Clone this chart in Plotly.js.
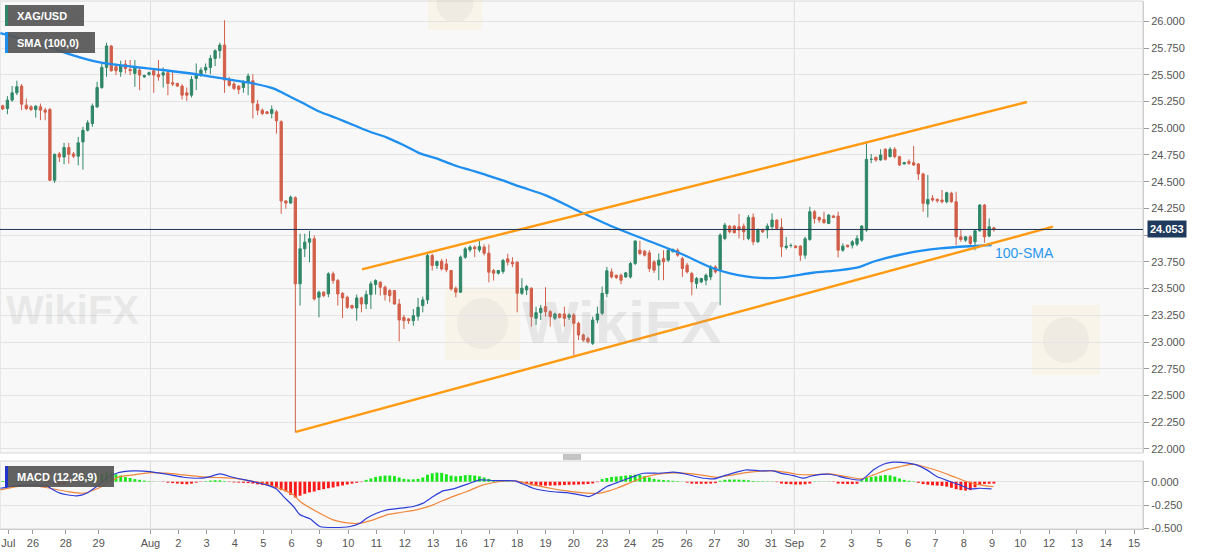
<!DOCTYPE html>
<html>
<head>
<meta charset="utf-8">
<script src="https://cdn.plot.ly/plotly-3.0.1.min.js"></script>
<style>
html,body{margin:0;padding:0;background:#ffffff;}
#chart{width:1207px;height:555px;}
</style>
</head>
<body>
<div id="chart"></div>
<script>
// ---------------- DATA ----------------
const symbolName = 'XAG/USD';
const smaLabel = 'SMA (100,0)';
const macdLabel = 'MACD (12,26,9)';
const smaNote = '100-SMA';
const lastPrice = 24.053;

// 4-hour candles, one per bar position
const openP = [
25.21,25.184,25.263,25.331,25.394,25.216,25.20,25.175,25.20,25.17,
25.175,24.513,24.76,24.731,24.819,24.76,24.738,24.872,24.981,25.044,
25.20,25.381,25.569,25.769,25.575,25.528,25.60,25.55,25.513,25.544,
25.481,25.503,25.538,25.503,25.497,25.519,25.425,25.419,25.394,25.331,
25.309,25.466,25.497,25.544,25.569,25.653,25.725,25.778,25.456,25.413,
25.394,25.381,25.434,25.444,25.225,25.169,25.153,25.138,25.153,25.06,
24.32,24.30,24.35,23.544,23.872,23.934,23.966,23.419,23.466,23.45,
23.638,23.575,23.456,23.419,23.341,23.319,23.413,23.356,23.444,23.538,
23.559,23.513,23.481,23.481,23.356,23.231,23.216,23.20,23.241,23.341,
23.394,23.809,23.716,23.756,23.731,23.669,23.503,23.466,23.794,23.862,
23.888,23.862,23.888,23.831,23.669,23.644,23.66,23.778,23.747,23.747,
23.456,23.4875,23.503,23.222,23.275,23.331,23.284,23.222,23.2625,23.2625,
23.231,23.253,23.175,23.066,23.034,22.9875,23.206,23.269,23.453,23.656,
23.625,23.625,23.609,23.609,23.734,23.859,23.85,23.834,23.75,23.719,
23.78,23.766,23.844,23.859,23.78,23.719,23.641,23.547,23.5625,23.578,
23.609,23.703,23.672,23.969,24.084,24.084,24.078,24.084,23.969,24.166,
23.9375,24.053,24.047,24.078,24.141,24.072,23.884,23.903,23.897,23.897,
23.8125,23.959,24.219,24.166,24.147,24.109,24.178,24.178,23.859,23.906,
23.906,23.916,23.953,24.047,24.709,24.728,24.703,24.803,24.734,24.803,
24.734,24.666,24.6875,24.678,24.666,24.572,24.291,24.344,24.334,24.328,
24.3125,24.391,24.3125,23.984,23.953,23.984,23.9375,24.041,24.281,23.991,
24.068];
const highP = [
25.22,25.30,25.394,25.444,25.413,25.278,25.216,25.216,25.231,25.19,
25.19,24.763,24.778,24.863,24.863,24.778,24.919,25.013,25.075,25.231,
25.434,25.606,25.80,25.778,25.606,25.631,25.638,25.638,25.638,25.569,
25.50,25.53,25.559,25.638,25.569,25.544,25.528,25.425,25.413,25.381,
25.488,25.606,25.569,25.606,25.684,25.738,25.80,26.01,25.481,25.434,
25.403,25.45,25.513,25.506,25.263,25.184,25.16,25.213,25.169,25.075,
24.325,24.37,24.363,24.0125,24.0125,24.04,23.997,23.481,23.475,23.653,
23.66,23.591,23.466,23.434,23.35,23.444,23.425,23.481,23.569,23.587,
23.569,23.528,23.497,23.488,23.403,23.256,23.225,23.309,23.413,23.425,
23.831,23.825,23.763,23.778,23.778,23.675,23.519,23.809,23.888,23.903,
23.903,23.944,23.913,23.913,23.684,23.675,23.778,23.825,23.794,23.756,
23.597,23.534,23.5125,23.331,23.347,23.5125,23.30,23.275,23.27,23.331,
23.269,23.269,23.19,23.08,23.05,23.2375,23.331,23.519,23.703,23.6875,
23.63,23.641,23.656,23.75,23.953,23.947,23.86,23.859,23.766,23.828,
23.859,23.875,23.875,23.875,23.797,23.741,23.656,23.609,23.60,23.641,
23.719,23.719,24.016,24.116,24.094,24.094,24.197,24.109,24.1875,24.203,
24.0625,24.06,24.109,24.203,24.147,24.156,23.984,23.922,23.906,23.906,
23.984,24.266,24.234,24.172,24.219,24.197,24.19,24.219,23.922,23.91,
23.953,24.0,24.094,24.875,24.759,24.734,24.803,24.8125,24.822,24.822,
24.741,24.685,24.709,24.834,24.672,24.584,24.5625,24.375,24.344,24.422,
24.406,24.406,24.406,24.047,23.991,24.0,24.047,24.291,24.291,24.156,
24.078];
const lowP = [
25.17,25.131,25.247,25.31,25.169,25.169,25.16,25.10,25.075,25.075,
24.506,24.488,24.684,24.663,24.669,24.72,24.653,24.613,24.97,25.013,
25.19,25.369,25.481,25.528,25.497,25.481,25.513,25.497,25.388,25.356,
25.47,25.49,25.331,25.444,25.381,25.309,25.394,25.385,25.269,25.256,
25.288,25.356,25.481,25.513,25.506,25.581,25.653,25.331,25.388,25.356,
25.319,25.331,25.309,25.091,25.122,25.122,25.13,25.091,24.95,24.20,
24.247,24.294,22.153,23.341,23.794,23.747,23.388,23.231,23.42,23.419,
23.544,23.341,23.225,23.309,23.31,23.20,23.278,23.309,23.309,23.444,
23.434,23.388,23.372,23.35,23.006,23.122,23.169,23.153,23.20,23.278,
23.356,23.669,23.684,23.669,23.653,23.481,23.419,23.46,23.778,23.84,
23.794,23.84,23.809,23.559,23.575,23.631,23.638,23.716,23.70,23.278,
23.44,23.44,23.144,23.159,23.206,23.2375,23.144,23.206,23.22,23.144,
23.206,22.878,23.019,23.003,22.9875,22.972,23.175,23.253,23.42,23.594,
23.59,23.541,23.60,23.594,23.719,23.8125,23.80,23.656,23.647,23.578,
23.578,23.75,23.84,23.797,23.609,23.641,23.4375,23.5,23.55,23.531,
23.578,23.641,23.344,23.953,24.016,24.016,23.969,23.953,23.953,23.906,
23.928,24.02,23.969,24.047,24.047,23.797,23.866,23.884,23.875,23.759,
23.78,23.947,24.109,24.116,24.109,24.103,24.16,23.791,23.844,23.885,
23.875,23.897,23.9375,24.031,24.672,24.6875,24.697,24.697,24.728,24.719,
24.647,24.66,24.656,24.647,24.516,24.219,24.166,24.3125,24.303,24.297,
24.297,24.303,23.906,23.9375,23.9375,23.906,23.859,24.031,23.928,23.98,
24.031];
const closeP = [
25.18,25.263,25.331,25.388,25.225,25.184,25.175,25.206,25.169,25.15,
24.513,24.756,24.73,24.819,24.756,24.738,24.863,24.981,25.05,25.209,
25.381,25.569,25.769,25.538,25.538,25.581,25.559,25.538,25.569,25.497,
25.494,25.519,25.497,25.481,25.519,25.419,25.413,25.394,25.309,25.309,
25.456,25.497,25.544,25.569,25.653,25.725,25.778,25.45,25.403,25.372,
25.363,25.434,25.488,25.238,25.169,25.138,25.138,25.175,25.069,24.319,
24.30,24.356,23.544,23.872,23.934,23.966,23.403,23.466,23.434,23.638,
23.575,23.45,23.413,23.325,23.319,23.413,23.356,23.444,23.544,23.575,
23.513,23.444,23.434,23.356,23.206,23.20,23.20,23.247,23.325,23.394,
23.809,23.716,23.753,23.684,23.675,23.497,23.466,23.794,23.872,23.888,
23.872,23.894,23.831,23.653,23.644,23.669,23.763,23.747,23.731,23.456,
23.503,23.519,23.2375,23.275,23.316,23.284,23.2375,23.2625,23.231,23.222,
23.253,23.175,23.066,23.019,23.003,23.206,23.2625,23.456,23.666,23.609,
23.603,23.578,23.647,23.734,23.944,23.828,23.8125,23.6875,23.672,23.766,
23.75,23.859,23.866,23.8125,23.6875,23.656,23.5625,23.594,23.594,23.625,
23.703,23.656,24.0,24.094,24.031,24.022,24.047,24.031,24.166,23.9375,
24.047,24.031,24.084,24.141,24.0625,23.891,23.897,23.903,23.884,23.8125,
23.966,24.219,24.156,24.141,24.116,24.1875,24.166,23.859,23.897,23.891,
23.9375,23.969,24.084,24.709,24.709,24.703,24.75,24.709,24.803,24.734,
24.656,24.678,24.672,24.656,24.572,24.297,24.334,24.328,24.322,24.3125,
24.397,24.3125,23.984,23.959,23.984,23.922,24.041,24.281,23.984,24.078,
24.053];

// 100-period SMA, read at sample bar positions
const smaX = [-0.5,10,13.6,20.6,27.6,34.8,41.8,48.8,53,57.3,60.9,63.7,67.2,70.8,74.3,77.8,81.3,84.9,88.4,91.9,95.5,99,102.5,106.1,109.6,115.2,122.3,129.4,136.4,143.5,150.5,154.1,160.4,164.7,171.7,177.4,181.6,184.4,191.5,198.6,205.6,209.5];
const smaY = [25.89,25.76,25.70,25.615,25.575,25.54,25.50,25.45,25.42,25.373,25.295,25.233,25.154,25.093,25.03,24.967,24.915,24.843,24.765,24.718,24.656,24.609,24.562,24.509,24.453,24.37,24.219,24.076,23.954,23.83,23.69,23.643,23.60,23.603,23.648,23.673,23.704,23.751,23.83,23.876,23.898,23.907];

// channel trend lines (bar position, price)
const upperX = [76.1, 217.0];
const upperY = [23.68, 25.245];
const lowerX = [62.1, 222.5];
const lowerY = [22.16, 24.079];

// MACD histogram, one value per bar
const macdHist = [
0.008,0.008,0.01,0.01,0.008,0.006,0.005,0.004,0.003,0.002,
-0.01,-0.03,-0.035,-0.03,-0.02,-0.01,0.005,
0.03,0.055,0.07,0.08,0.09,0.109,0.10,0.08,0.066,0.05,0.04,0.028,0.02,0.012,0.005,0.002,0.001,
-0.003,-0.01,-0.015,-0.02,-0.025,-0.027,-0.02,-0.01,-0.003,
0.005,0.012,0.016,0.014,0.006,
-0.004,-0.008,-0.01,-0.012,-0.015,-0.02,-0.028,-0.035,
-0.04,-0.05,-0.065,-0.09,-0.105,-0.14,-0.17,-0.15,-0.13,-0.115,-0.105,-0.09,-0.08,-0.07,-0.062,-0.05,-0.04,-0.03,-0.02,-0.012,-0.004,
0.02,0.035,0.05,0.06,0.066,0.066,0.06,0.045,0.03,0.025,0.025,0.03,0.045,0.075,0.09,0.098,0.095,0.08,0.065,0.058,0.062,0.07,0.072,0.066,0.058,0.045,0.03,0.018,0.012,0.01,0.006,0.002,
-0.005,-0.015,-0.027,-0.038,-0.041,-0.042,-0.042,-0.041,-0.04,-0.038,-0.035,-0.033,-0.032,-0.03,-0.028,-0.025,-0.018,-0.005,
0.028,0.04,0.05,0.055,0.06,0.066,0.07,0.075,0.072,0.06,0.045,0.03,0.022,0.018,0.015,0.01,0.006,0.002,
-0.01,-0.02,-0.022,-0.022,-0.022,-0.02,-0.015,
0.01,0.02,0.023,0.023,0.022,0.02,0.015,
0.008,0.005,0.004,0.004,0.003,
-0.005,-0.02,-0.025,-0.027,-0.03,-0.03,-0.027,-0.02,
0.003,0.003,0.002,0.002,-0.003,
-0.02,-0.023,-0.025,-0.025,-0.022,
0.015,0.04,0.05,0.057,0.065,0.072,0.068,0.055,0.035,0.02,0.01,0.005,
-0.012,-0.025,-0.032,-0.038,-0.041,-0.045,-0.052,-0.065,-0.08,-0.09,-0.095,-0.09,-0.06,-0.035,-0.025,-0.022,-0.02];

// MACD and signal lines, read at sample bar positions
const macdX = [-0.5,3,6.5,9.3,10.5,12,13.6,15.7,17.8,19.9,22,24.1,27.7,31.2,34.7,38.3,41.8,43.9,46,48.9,52.4,55.9,58,59.5,61.6,63,65.1,67.2,70,73.6,75.7,77.1,79.2,81.4,84.2,87,89.1,91.2,93.3,95.5,96.9,99,101.1,104,106.8,108.5,111,112.4,116,119.5,122.3,124.1,125.8,128,130.8,133.6,135.7,139.3,142.1,144.9,147.7,150.6,153.4,157.6,160.4,163.3,165,167.5,169.6,171.7,175.3,178.8,182,184.5,186.6,188.7,191.5,193.6,195.8,197.9,200.7,202.8,204.9,207,209.5];
const macdY = [-0.07,-0.041,-0.034,-0.045,-0.08,-0.12,-0.14,-0.152,-0.123,-0.052,0.0375,0.091,0.116,0.109,0.080,0.048,0.0375,0.055,0.084,0.045,0.009,-0.034,-0.077,-0.159,-0.266,-0.355,-0.398,-0.48,-0.491,-0.48,-0.445,-0.391,-0.3375,-0.302,-0.284,-0.266,-0.23,-0.159,-0.098,-0.077,-0.052,-0.016,0.02,0.0125,0.0125,0.009,-0.041,-0.07,-0.105,-0.116,-0.141,-0.159,-0.123,-0.052,0.002,0.055,0.091,0.091,0.102,0.08,0.045,0.03,0.073,0.127,0.116,0.116,0.09,0.066,0.0375,0.066,0.080,0.0375,0.02,0.127,0.1875,0.209,0.202,0.18,0.127,0.055,0.002,-0.034,-0.077,-0.07,-0.077];
const sigX = [-0.5,3,6.5,10,13.6,17.1,20.6,22.7,24.8,27.7,31.2,34.7,38.3,41.8,45.3,48.9,52.4,55.9,59.5,61.6,63,66.5,70,73.6,75.7,78.5,81.4,84.2,87.7,91.2,94.8,98.3,101.8,105.4,108.5,112.4,116,119.5,123.7,126.5,130.1,133.6,136.4,140.7,144.2,147.7,151.3,154.8,158.3,163.3,166.1,168.2,171.7,175.3,178.8,182,184.5,187.3,190.1,192.9,195.8,198.6,201.4,204.2,207,209.9];
const sigY = [-0.0875,-0.052,-0.041,-0.07,-0.105,-0.123,-0.0625,0.002,0.055,0.073,0.098,0.091,0.073,0.055,0.045,0.0375,0.009,-0.027,-0.0875,-0.141,-0.2125,-0.32,-0.409,-0.445,-0.445,-0.409,-0.355,-0.33,-0.302,-0.248,-0.17,-0.105,-0.034,0.002,0.009,-0.034,-0.07,-0.098,-0.123,-0.123,-0.07,0.002,0.055,0.091,0.091,0.073,0.048,0.073,0.102,0.116,0.10,0.08,0.073,0.084,0.055,0.03,0.073,0.127,0.1625,0.1875,0.152,0.109,0.055,0.002,-0.034,-0.052];

// axis ticks
const xTickVals = [1.2,6.4,13.37,20.34,31.3,37.2,43.2,49.2,55.2,61.2,67.1,73.2,79.2,85.2,91.2,97.2,103.1,109.0,115.0,121.0,127.0,132.9,138.8,144.9,150.8,156.9,162.8,167.7,173.8,179.8,185.8,191.8,197.6,203.6,209.6,215.6,221.7,227.6,233.7,239.7];
const xTickText = ['Jul','26','28','29','Aug','2','3','4','5','6','9','10','11','12','13','16','17','18','19','20','23','24','25','26','27','30','31','Sep','2','3','5','6','7','8','9','10','12','13','14','15'];
const monthLines = [31.3, 167.7];
const priceTicks = [22,22.25,22.5,22.75,23,23.25,23.5,23.75,24,24.25,24.5,24.75,25,25.25,25.5,25.75,26];
// the 24.000 label sits under the last-price tag in the reference
const priceTickText = ['22.000','22.250','22.500','22.750','23.000','23.250','23.500','23.750','','24.250','24.500','24.750','25.000','25.250','25.500','25.750','26.000'];
const macdTickVals = [0,-0.25,-0.5];
const macdTickText = ['0.000','-0.250','-0.500'];

// ---------------- CHART ----------------
const W = 1207, H = 555, ML = 0, MR = 64, MT = 1, MB = 26;
const PW = W - ML - MR, PH = H - MT - MB;
const px = v => (v - ML) / PW;               // page x -> paper
const py = v => (H - MB - v) / PH;           // page y -> paper
const FONT = 'Liberation Sans, Arial, sans-serif';

const bars = openP.map((_, i) => i);

const traces = [
  {
    type: 'candlestick', x: bars, open: openP, high: highP, low: lowP, close: closeP,
    xaxis: 'x', yaxis: 'y',
    increasing: {line: {color: '#2f8767', width: 1}, fillcolor: '#2f8767'},
    decreasing: {line: {color: '#d25f4a', width: 1}, fillcolor: '#d25f4a'},
    whiskerwidth: 0, hoverinfo: 'skip', showlegend: false
  },
  {
    type: 'scatter', mode: 'lines', x: smaX, y: smaY, xaxis: 'x', yaxis: 'y',
    line: {color: '#1e8ff0', width: 2.3, shape: 'spline', smoothing: 0.8},
    hoverinfo: 'skip', showlegend: false
  },
  {
    type: 'scatter', mode: 'lines', x: upperX, y: upperY, xaxis: 'x', yaxis: 'y',
    line: {color: '#ff9a12', width: 2.4}, hoverinfo: 'skip', showlegend: false
  },
  {
    type: 'scatter', mode: 'lines', x: lowerX, y: lowerY, xaxis: 'x', yaxis: 'y',
    line: {color: '#ff9a12', width: 2.4}, hoverinfo: 'skip', showlegend: false
  },
  {
    type: 'bar', x: bars, y: macdHist, xaxis: 'x', yaxis: 'y2', width: 0.62,
    marker: {color: macdHist.map(v => v >= 0 ? '#19e619' : '#ff1a1a'), line: {width: 0}},
    hoverinfo: 'skip', showlegend: false
  },
  {
    type: 'scatter', mode: 'lines', x: sigX, y: sigY, xaxis: 'x', yaxis: 'y2',
    line: {color: '#f0873a', width: 1.2, shape: 'spline', smoothing: 0.6},
    hoverinfo: 'skip', showlegend: false
  },
  {
    type: 'scatter', mode: 'lines', x: macdX, y: macdY, xaxis: 'x', yaxis: 'y2',
    line: {color: '#2d3ed8', width: 1.2, shape: 'spline', smoothing: 0.6},
    hoverinfo: 'skip', showlegend: false
  }
];

const shapes = [];
// panel borders
shapes.push({type: 'rect', xref: 'paper', yref: 'y domain', x0: 0, x1: 1, y0: 0, y1: 1,
  line: {color: '#d6d6d6', width: 1}, fillcolor: 'rgba(0,0,0,0)', layer: 'below'});
shapes.push({type: 'rect', xref: 'paper', yref: 'y2 domain', x0: 0, x1: 1, y0: 0, y1: 1,
  line: {color: '#d6d6d6', width: 1}, fillcolor: 'rgba(0,0,0,0)', layer: 'below'});
// month separators
monthLines.forEach(m => {
  shapes.push({type: 'line', xref: 'x', yref: 'y domain', x0: m, x1: m, y0: 0, y1: 1,
    line: {color: '#dcdcdc', width: 1}, layer: 'below'});
  shapes.push({type: 'line', xref: 'x', yref: 'y2 domain', x0: m, x1: m, y0: 0, y1: 1,
    line: {color: '#dcdcdc', width: 1}, layer: 'below'});
});
// faint watermark logos
function wmLogo(x0, y0, x1, y1) {
  shapes.push({type: 'rect', xref: 'paper', yref: 'paper', x0: px(x0), x1: px(x1), y0: py(y1), y1: py(y0),
    fillcolor: 'rgba(248,225,160,0.16)', line: {width: 0}, layer: 'below'});
  const cx = (x0 + x1) / 2, cy = (y0 + y1) / 2, r = (x1 - x0) * 0.34;
  shapes.push({type: 'circle', xref: 'paper', yref: 'paper', x0: px(cx - r), x1: px(cx + r), y0: py(cy + r), y1: py(cy - r),
    fillcolor: 'rgba(150,140,140,0.08)', line: {width: 0}, layer: 'below'});
}
wmLogo(445, 287, 520, 360);
wmLogo(1032, 305, 1100, 375);
wmLogo(428, -22, 482, 30);
// last price line
shapes.push({type: 'line', xref: 'paper', yref: 'y', x0: 0, x1: 1, y0: lastPrice, y1: lastPrice,
  line: {color: '#1d3557', width: 1}, layer: 'above'});
// label boxes
function labelBox(x0, y0, x1, y1, strip) {
  shapes.push({type: 'rect', xref: 'paper', yref: 'paper', x0: px(x0), x1: px(x1), y0: py(y1), y1: py(y0),
    fillcolor: 'rgba(86,86,86,0.93)', line: {width: 0}, layer: 'above'});
  shapes.push({type: 'rect', xref: 'paper', yref: 'paper', x0: px(x0), x1: px(x0 + 3), y0: py(y1), y1: py(y0),
    fillcolor: strip, line: {width: 0}, layer: 'above'});
}
labelBox(5, 5, 84, 26, '#2f8767');
labelBox(5, 32, 95, 53, '#1e8ff0');
labelBox(5, 466, 114, 487, '#2233cc');
// splitter handle
[455, 457, 459].forEach(y => {
  shapes.push({type: 'line', xref: 'paper', yref: 'paper', x0: px(563), x1: px(581), y0: py(y), y1: py(y),
    line: {color: '#888', width: 1}});
});

const annotations = [
  {xref: 'paper', yref: 'paper', x: px(15), y: py(15.5), xanchor: 'left', yanchor: 'middle',
   text: '<b>' + symbolName + '</b>', showarrow: false, font: {family: FONT, size: 11, color: '#ffffff'}},
  {xref: 'paper', yref: 'paper', x: px(15), y: py(42.5), xanchor: 'left', yanchor: 'middle',
   text: '<b>' + smaLabel + '</b>', showarrow: false, font: {family: FONT, size: 11, color: '#ffffff'}},
  {xref: 'paper', yref: 'paper', x: px(15), y: py(476.5), xanchor: 'left', yanchor: 'middle',
   text: '<b>' + macdLabel + '</b>', showarrow: false, font: {family: FONT, size: 11, color: '#ffffff'}},
  {xref: 'x', yref: 'y', x: 209.8, y: 23.833, xanchor: 'left', yanchor: 'middle',
   text: smaNote, showarrow: false, font: {family: FONT, size: 14, color: '#2a97ee'}},
  {xref: 'paper', yref: 'y', x: 1, y: lastPrice, xanchor: 'left', yanchor: 'middle', xshift: 4,
   text: '<b>' + lastPrice.toFixed(3) + '</b>', showarrow: false, bgcolor: '#1f3a5c', borderpad: 2,
   font: {family: FONT, size: 11, color: '#ffffff'}},
  // watermarks
  {xref: 'paper', yref: 'paper', x: px(72), y: py(310), xanchor: 'center', yanchor: 'middle',
   text: '<b>WikiFX</b>', showarrow: false, font: {family: FONT, size: 40, color: 'rgba(150,150,150,0.18)'}},
  {xref: 'paper', yref: 'paper', x: px(622), y: py(322), xanchor: 'center', yanchor: 'middle',
   text: '<b>WikiFX</b>', showarrow: false, font: {family: FONT, size: 60, color: 'rgba(150,150,150,0.18)'}}
];

const axisFont = {family: FONT, size: 11, color: '#555555'};

const layout = {
  width: W, height: H,
  margin: {l: ML, r: MR, t: MT, b: MB, pad: 0, autoexpand: false},
  paper_bgcolor: '#ffffff', plot_bgcolor: '#f8f8f8',
  showlegend: false, hovermode: false, dragmode: false,
  font: {family: FONT, size: 11, color: '#555555'},
  xaxis: {
    domain: [0, 1], anchor: 'y2', range: [-0.572, 241.59], autorange: false,
    tickmode: 'array', tickvals: xTickVals, ticktext: xTickText,
    ticks: 'outside', ticklen: 4, tickcolor: '#9a9a9a', tickfont: axisFont,
    ticklabeloverflow: 'allow',
    showgrid: false, zeroline: false, showline: true, linecolor: '#cccccc',
    rangeslider: {visible: false}, fixedrange: true
  },
  yaxis: {
    domain: [py(453), 1], anchor: 'x', side: 'right',
    range: [21.962, 26.19], autorange: false,
    tickmode: 'array', tickvals: priceTicks, ticktext: priceTickText,
    ticks: 'outside', ticklen: 5, tickcolor: '#9a9a9a', tickfont: axisFont,
    showgrid: true, gridcolor: '#e4e4e4', gridwidth: 1, zeroline: false,
    showline: true, linecolor: '#cccccc', fixedrange: true
  },
  yaxis2: {
    domain: [0, py(461)], anchor: 'x', side: 'right',
    range: [-0.507, 0.222], autorange: false,
    tickmode: 'array', tickvals: macdTickVals, ticktext: macdTickText,
    ticks: 'outside', ticklen: 5, tickcolor: '#9a9a9a', tickfont: axisFont,
    showgrid: true, gridcolor: '#e4e4e4', gridwidth: 1, zeroline: false,
    showline: true, linecolor: '#cccccc', fixedrange: true
  },
  shapes: shapes,
  annotations: annotations
};

Plotly.newPlot('chart', traces, layout, {displayModeBar: false, staticPlot: true, responsive: false});
</script>
</body>
</html>
